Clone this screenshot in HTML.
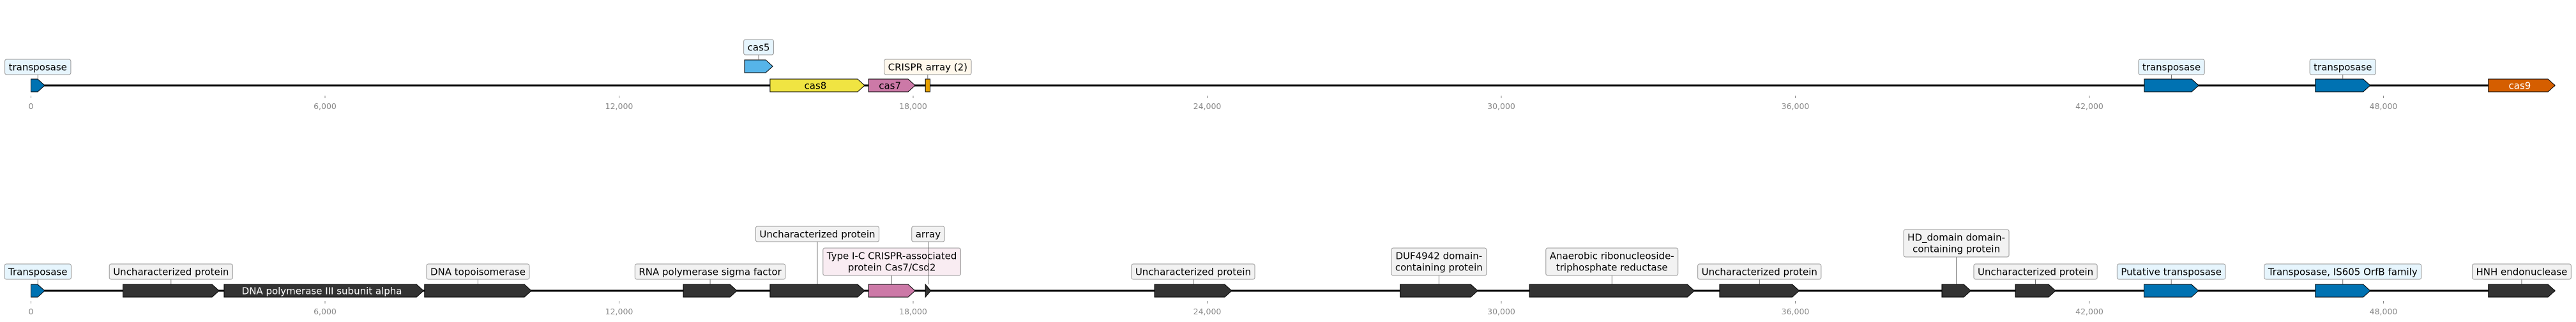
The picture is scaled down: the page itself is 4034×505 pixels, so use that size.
<!DOCTYPE html>
<html><head><meta charset="utf-8"><style>
html,body{margin:0;padding:0;background:#fff;}
svg{display:block;font-family:"DejaVu Sans","Liberation Sans",sans-serif;}
</style></head><body>
<svg id="chart" width="4034" height="505" viewBox="0 0 4034 505" xmlns="http://www.w3.org/2000/svg"></svg>
<script>
// ---- data ----
const tickValues = [0, 6000, 12000, 18000, 24000, 30000, 36000, 42000, 48000];
const tickLabels = ["0", "6,000", "12,000", "18,000", "24,000", "30,000", "36,000", "42,000", "48,000"];
// track 1
const t1Names  = ["transposase","cas5","cas8","cas7","CRISPR array (2)","transposase","transposase","cas9"];
const t1Starts = [0, 14560, 15080, 17090, 18250, 43120, 46610, 50140];
const t1Ends   = [280, 15135, 17010, 18040, 18345, 44230, 47730, 51500];
const t1Colors = ["#0072b2","#56b4e9","#f0e442","#cc79a7","#e69f00","#0072b2","#0072b2","#d55e00"];
const t1Inside = [false,false,true,true,false,false,false,true];
const t1Level  = [0,1,0,0,0,0,0,0];
const t1LabelBottom = [117, 86, 0, 0, 117, 117, 117, 0];
const t1LabelFill = ["#e6f5fd","#e6f5fd","","","#fff8ec","#e6f5fd","#e6f5fd",""];
const t1Shape = ["arrow","arrow","arrow","arrow","rect","arrow","arrow","arrow"];
// track 2
const t2Names = ["Transposase","Uncharacterized protein","DNA polymerase III subunit alpha","DNA topoisomerase","RNA polymerase sigma factor","Uncharacterized protein","Type I-C CRISPR-associated|protein Cas7/Csd2","array","Uncharacterized protein","DUF4942 domain-|containing protein","Anaerobic ribonucleoside-|triphosphate reductase","Uncharacterized protein","HD_domain domain-|containing protein","Uncharacterized protein","Putative transposase","Transposase, IS605 OrfB family","HNH endonuclease"];
const t2Starts = [0,1877,3940,8030,13310,15080,17090,18250,22925,27935,30575,34455,38990,40490,43115,46610,50140];
const t2Ends   = [280,3838,8010,10210,14405,17010,18040,18360,24500,29520,33940,36080,39580,41310,44225,47730,51500];
const t2Colors = ["#0072b2","#333333","#333333","#333333","#333333","#333333","#cc79a7","#333333","#333333","#333333","#333333","#333333","#333333","#333333","#0072b2","#0072b2","#333333"];
const t2Inside = [false,false,true,false,false,false,false,false,false,false,false,false,false,false,false,false,false];
const t2LabelBottom = [438,438,0,438,438,379,432,379,438,432,432,438,403,438,438,438,438];
const t2LabelFill = ["#e6f5fd","#f2f2f2","","#f2f2f2","#f2f2f2","#f2f2f2","#f9ecf2","#f2f2f2","#f2f2f2","#f2f2f2","#f2f2f2","#f2f2f2","#f2f2f2","#f2f2f2","#e6f5fd","#e6f5fd","#f2f2f2"];

// ---- scales ----
const X0 = 48.5, PX = 0.07675;
function xs(bp){ return X0 + bp*PX; }
const NS = "http://www.w3.org/2000/svg";
const svg = document.getElementById("chart");
function mk(tag, attrs, parent){
  const e = document.createElementNS(NS, tag);
  for (const k in attrs) e.setAttribute(k, attrs[k]);
  (parent||svg).appendChild(e);
  return e;
}

function drawTrack(cfg){
  const g = mk("g", {});
  
  
  const lineY = cfg.lineY;
  const last = Math.max(...cfg.ends);
  const bb = mk("line", {x1: xs(0), x2: xs(last), y1: lineY, y2: lineY, stroke: "#000", "stroke-width": 3}, g);
  
  
  for (let i=0;i<tickValues.length;i++){
    const x = xs(tickValues[i]);
    const t = mk("line", {x1:x, x2:x, y1: lineY+16, y2: lineY+20, stroke:"#888", "stroke-width":1}, g);
    
    
    const tl = mk("text", {x:x, y: lineY+37, "text-anchor":"middle", "font-size":12.5, fill:"#888"}, g);
    tl.textContent = tickLabels[i];
    
    
  }
  for (let i=0;i<cfg.names.length;i++){
    const x1 = xs(cfg.starts[i]), x2 = xs(cfg.ends[i]);
    const lvl = cfg.level ? cfg.level[i] : 0;
    const cy = lineY - lvl*30;
    const top = cy-10, bot = cy+10;
    const shape = cfg.shape ? cfg.shape[i] : "arrow";
    let el;
    if (shape === "rect"){
      el = mk("rect", {x:x1, y:top, width:Math.max(2,x2-x1), height:20, fill:cfg.colors[i], stroke:"#000", "stroke-width":1}, g);
    } else {
      const head = Math.min(11, x2-x1);
      const pts = [[x1,top],[x2-head,top],[x2,cy],[x2-head,bot],[x1,bot]].map(p=>p.join(",")).join(" ");
      el = mk("polygon", {points: pts, fill: cfg.colors[i], stroke:"#000", "stroke-width":1}, g);
    }
    
    
    const label = cfg.names[i].split("|");
    if (cfg.inside[i]){
      const tx = mk("text", {x:(x1+x2-6)/2, y:cy+5.5, "text-anchor":"middle", "font-size":15,
        fill: (cfg.colors[i]==="#f0e442"||cfg.colors[i]==="#cc79a7") ? "#000" : "#fff"}, g);
      tx.textContent = label[0];
      
      
    } else {
      const cx = (x1+x2)/2;
      const bottom = cfg.labelBottom[i];
      const n = label.length;
      const h = n === 1 ? 24 : 43;
      const boxTop = bottom - h;
      mk("line", {x1:cx, x2:cx, y1:bottom, y2:top, stroke:"#555", "stroke-width":0.8}, g);
      const rect = mk("rect", {x:cx-20, y:boxTop, width:40, height:h, rx:3, fill:cfg.labelFill[i], stroke:"#999", "stroke-width":1}, g);
      
      
      let maxW = 0;
      const texts = [];
      for (let k=0;k<n;k++){
        const tx = mk("text", {x:cx, y: boxTop + 17.5 + k*18, "text-anchor":"middle", "font-size":15, fill:"#000"}, g);
        tx.textContent = label[k];
        
        
        maxW = Math.max(maxW, tx.getComputedTextLength());
        texts.push(tx);
      }
      const w = maxW + 12;
      let bx = cx - w/2;
      if (bx < 2) { bx = 2; texts.forEach(t=>t.setAttribute("x", bx + w/2)); }
      if (bx + w > 4032) { bx = 4032 - w; texts.forEach(t=>t.setAttribute("x", bx + w/2)); }
      rect.setAttribute("x", bx);
      rect.setAttribute("width", w);
    }
  }
}

drawTrack({name:"track-1", lineY:134, names:t1Names, starts:t1Starts, ends:t1Ends, colors:t1Colors,
  inside:t1Inside, level:t1Level, labelBottom:t1LabelBottom, labelFill:t1LabelFill, shape:t1Shape});
drawTrack({name:"track-2", lineY:456, names:t2Names, starts:t2Starts, ends:t2Ends, colors:t2Colors,
  inside:t2Inside, labelBottom:t2LabelBottom, labelFill:t2LabelFill});
</script>
</body></html>
